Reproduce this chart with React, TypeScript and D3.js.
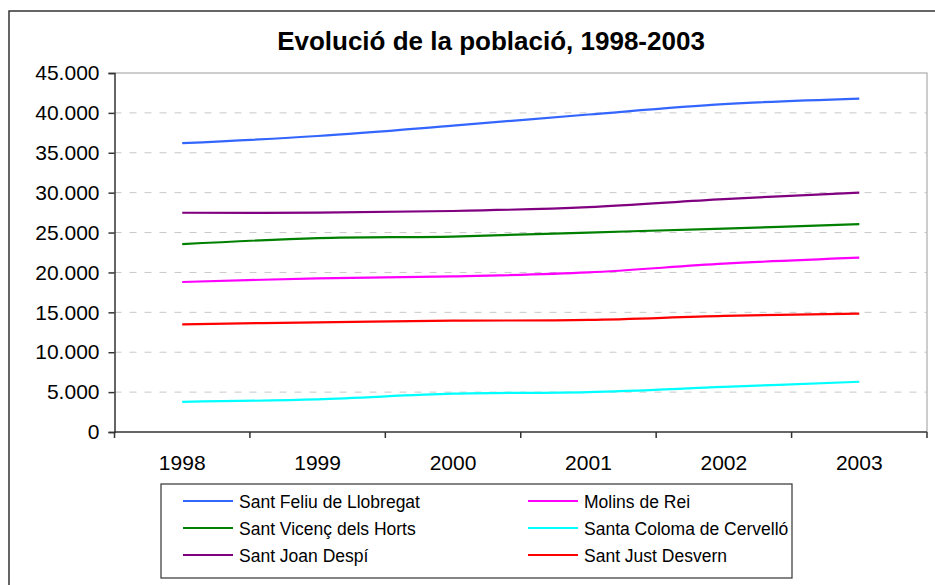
import { useEffect, useRef } from 'react';
import * as d3 from 'd3';

const years = ['1998', '1999', '2000', '2001', '2002', '2003'];

const santFeliu = [36200, 37100, 38400, 39800, 41100, 41800];
const molins = [18800, 19250, 19500, 20000, 21100, 21850];
const santVicenc = [23550, 24300, 24500, 25000, 25500, 26050];
const santaColoma = [3780, 4100, 4800, 5000, 5650, 6300];
const santJoan = [27480, 27500, 27700, 28200, 29200, 30000];
const santJust = [13500, 13750, 13950, 14050, 14550, 14830];

const yTicks = [0, 5000, 10000, 15000, 20000, 25000, 30000, 35000, 40000, 45000];

const series = [
  { name: 'Sant Feliu de Llobregat', values: santFeliu, color: '#3366FF' },
  { name: 'Molins de Rei', values: molins, color: '#FF00FF' },
  { name: 'Sant Vicenç dels Horts', values: santVicenc, color: '#008000' },
  { name: 'Santa Coloma de Cervelló', values: santaColoma, color: '#00FFFF' },
  { name: 'Sant Joan Despí', values: santJoan, color: '#800080' },
  { name: 'Sant Just Desvern', values: santJust, color: '#FF0000' },
];

const App = () => {
  const svgRef = useRef<SVGSVGElement>(null);

  useEffect(() => {
    const width = 935;
    const height = 585;
    const plot = { left: 114.5, right: 927, top: 73, bottom: 432 };
    const font = '"Liberation Sans", Arial, sans-serif';

    const svg = d3.select(svgRef.current)
      .attr('width', width)
      .attr('height', height)
      .style('font-family', font);
    svg.selectAll('*').remove();

    svg.append('rect')
      .attr('width', width).attr('height', height).attr('fill', '#fff');

    // outer chart border (runs past the right and bottom edge)
    svg.append('rect')
      .attr('x', 9).attr('y', 11)
      .attr('width', 1000).attr('height', 1000)
      .attr('fill', 'none').attr('stroke', '#333').attr('stroke-width', 1.5);

    svg.append('text')
      .attr('x', 491).attr('y', 50)
      .attr('text-anchor', 'middle')
      .attr('font-size', 26).attr('font-weight', 'bold')
      .text('Evolució de la població, 1998-2003');

    const xScale = d3.scaleBand()
      .domain(years)
      .range([plot.left, plot.right])
      .padding(0);

    const yScale = d3.scaleLinear()
      .domain([0, 45000])
      .range([plot.bottom, plot.top]);

    const fmt = d3.formatLocale({ decimal: ',', thousands: '.', grouping: [3], currency: ['', '€'] }).format(',');

    // gridlines
    svg.append('g')
      .selectAll('line')
      .data(yTicks.filter(t => t > 0 && t < 45000))
      .enter().append('line')
      .attr('x1', plot.left).attr('x2', plot.right)
      .attr('y1', d => yScale(d)).attr('y2', d => yScale(d))
      .attr('stroke', '#c8c8c8').attr('stroke-width', 1)
      .attr('stroke-dasharray', '7,8');

    // plot area border, top and right
    svg.append('path')
      .attr('d', `M${plot.left},${plot.top}H${plot.right}V${plot.bottom}`)
      .attr('fill', 'none').attr('stroke', '#bdbdbd').attr('stroke-width', 1.5);

    // y axis
    const yAxis = svg.append('g')
      .attr('transform', `translate(${plot.left}, 0)`)
      .call(d3.axisLeft(yScale).tickValues(yTicks).tickFormat(d => fmt(d as number)).tickSize(6).tickPadding(9));
    yAxis.select('.domain').attr('stroke', '#333').attr('stroke-width', 1.5);
    yAxis.selectAll('.tick line').attr('stroke', '#333').attr('stroke-width', 1.5);
    yAxis.selectAll('.tick text')
      .attr('font-size', 21).attr('font-family', font).attr('fill', '#000');

    // x axis, ticks between categories
    const xAxis = svg.append('g')
      .attr('transform', `translate(0, ${plot.bottom})`);
    xAxis.append('line')
      .attr('x1', plot.left).attr('x2', plot.right)
      .attr('stroke', '#333').attr('stroke-width', 1.5);
    xAxis.selectAll('.xt')
      .data([...years.map(y => xScale(y) as number), plot.right])
      .enter().append('line')
      .attr('x1', d => d).attr('x2', d => d)
      .attr('y1', 0).attr('y2', 6)
      .attr('stroke', '#333').attr('stroke-width', 1.5);
    xAxis.selectAll('text')
      .data(years)
      .enter().append('text')
      .attr('x', d => (xScale(d) as number) + xScale.bandwidth() / 2)
      .attr('y', 38)
      .attr('text-anchor', 'middle')
      .attr('font-size', 21)
      .text(d => d);

    const line = d3.line<number>()
      .x((_, i) => (xScale(years[i]) as number) + xScale.bandwidth() / 2)
      .y(d => yScale(d))
      .curve(d3.curveCatmullRom.alpha(0.5));

    svg.selectAll('.line')
      .data(series)
      .enter().append('path')
      .attr('class', 'line')
      .attr('fill', 'none')
      .attr('stroke', d => d.color)
      .attr('stroke-width', 2.2)
      .attr('d', d => line(d.values));

    // legend
    const legend = svg.append('g');
    legend.append('rect')
      .attr('x', 161).attr('y', 484)
      .attr('width', 631).attr('height', 94)
      .attr('fill', '#fff').attr('stroke', '#333').attr('stroke-width', 1.2);

    const items = legend.selectAll('.item')
      .data(series)
      .enter().append('g')
      .attr('class', 'item')
      .attr('transform', (_, i) => `translate(${i % 2 === 0 ? 183 : 528}, ${501 + Math.floor(i / 2) * 27})`);
    items.append('line')
      .attr('x1', 0).attr('x2', 50)
      .attr('stroke', d => d.color).attr('stroke-width', 2.2);
    items.append('text')
      .attr('x', 56).attr('y', 6.5)
      .attr('font-size', 17.5)
      .text(d => d.name);
  }, []);

  return (
    <div>
      <svg ref={svgRef} style={{ position: 'absolute', left: 0, top: 0 }} />
    </div>
  );
};

export default App;
